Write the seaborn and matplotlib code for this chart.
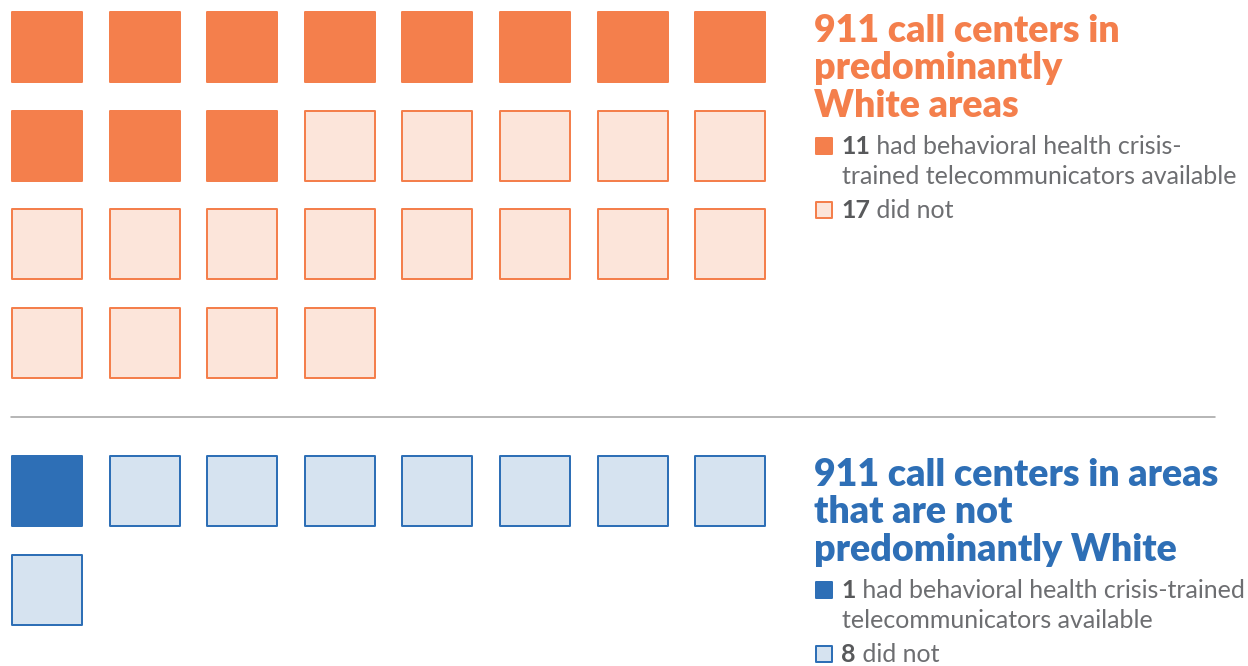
import matplotlib
matplotlib.use("Agg")
import matplotlib.pyplot as plt
import seaborn as sns
import pandas as pd
import numpy as np

# ---- data ----
groups = ["predominantly White", "not predominantly White"]
had_trained = [11, 1]
did_not = [17, 8]
titles = ["911 call centers in\npredominantly\nWhite areas",
          "911 call centers in areas\nthat are not\npredominantly White"]
legend_yes = [("11", " had behavioral health crisis-", "trained telecommunicators available"),
              ("1", " had behavioral health crisis-trained", "telecommunicators available")]
legend_no = [("17", " did not"), ("8", " did not")]

# ---- style ----
sns.set_theme(style="white")
plt.rcParams['font.family'] = ['Lato', 'DejaVu Sans']
dark_c = ["#F47F4C", "#2E6FB6"]
light_c = ["#FCE5DA", "#D6E3F0"]
text_c = "#6D6E71"
num_c = "#58595B"

W, H, DPI = 12.48, 6.66, 100
fig = plt.figure(figsize=(W, H), dpi=DPI)
ax = fig.add_axes([0, 0, 1, 1])
ax.set_xlim(0, 1248)
ax.set_ylim(666, 0)
ax.axis("off")

ncols = 8
dx, dy = 97.6, 98.7
x0 = 47
y0s = [47, 491]
side_px = 70
s = (side_px * 72 / DPI) ** 2
lw = 2 * 72 / DPI

for g in range(2):
    n_yes, n_no = had_trained[g], did_not[g]
    total = n_yes + n_no
    idx = np.arange(total)
    df = pd.DataFrame({
        "x": x0 + (idx % ncols) * dx,
        "y": y0s[g] + (idx // ncols) * dy,
        "status": ["yes"] * n_yes + ["no"] * n_no,
    })
    for status, fc in [("yes", dark_c[g]), ("no", light_c[g])]:
        sub = df[df.status == status]
        sns.scatterplot(data=sub, x="x", y="y", marker="s", s=s,
                        color=fc, edgecolor=dark_c[g], linewidth=lw,
                        ax=ax, legend=False, zorder=3)

# separator
ax.plot([11, 1215], [416.5, 416.5], color="#A6A6A6", lw=1.6 * 72 / DPI, zorder=1)

# titles and legends
tx = 814
title_top = [14, 458]
leg_y = [[147, 177, 211], [591, 620, 655]]
title_fs = 27
leg_fs = 18
for g in range(2):
    ax.text(tx, title_top[g], titles[g], color=dark_c[g], fontsize=title_fs,
            fontweight="heavy", va="top", ha="left", linespacing=1.12)
    # legend markers
    for yy, fc in [(leg_y[g][0] - 1, dark_c[g]), (leg_y[g][2] - 1, light_c[g])]:
        ax.scatter([824], [yy], marker="s", s=(16 * 72 / DPI) ** 2, color=fc,
                   edgecolor=dark_c[g], linewidths=lw, zorder=3)
    num, rest1, line2 = legend_yes[g]
    t = ax.text(841, leg_y[g][0], num, color=num_c, fontsize=leg_fs,
                fontweight="bold", va="center", ha="left")
    ax.annotate(rest1, xy=(1, 0), xycoords=t, va="bottom", ha="left",
                color=text_c, fontsize=leg_fs)
    ax.text(842, leg_y[g][1], line2, color=text_c, fontsize=leg_fs,
            va="center", ha="left")
    num2, rest2 = legend_no[g]
    t2 = ax.text(841, leg_y[g][2], num2, color=num_c, fontsize=leg_fs,
                 fontweight="bold", va="center", ha="left")
    ax.annotate(rest2, xy=(1, 0), xycoords=t2, va="bottom", ha="left",
                color=text_c, fontsize=leg_fs)

fig.savefig("out.png", dpi=DPI, facecolor="white")
